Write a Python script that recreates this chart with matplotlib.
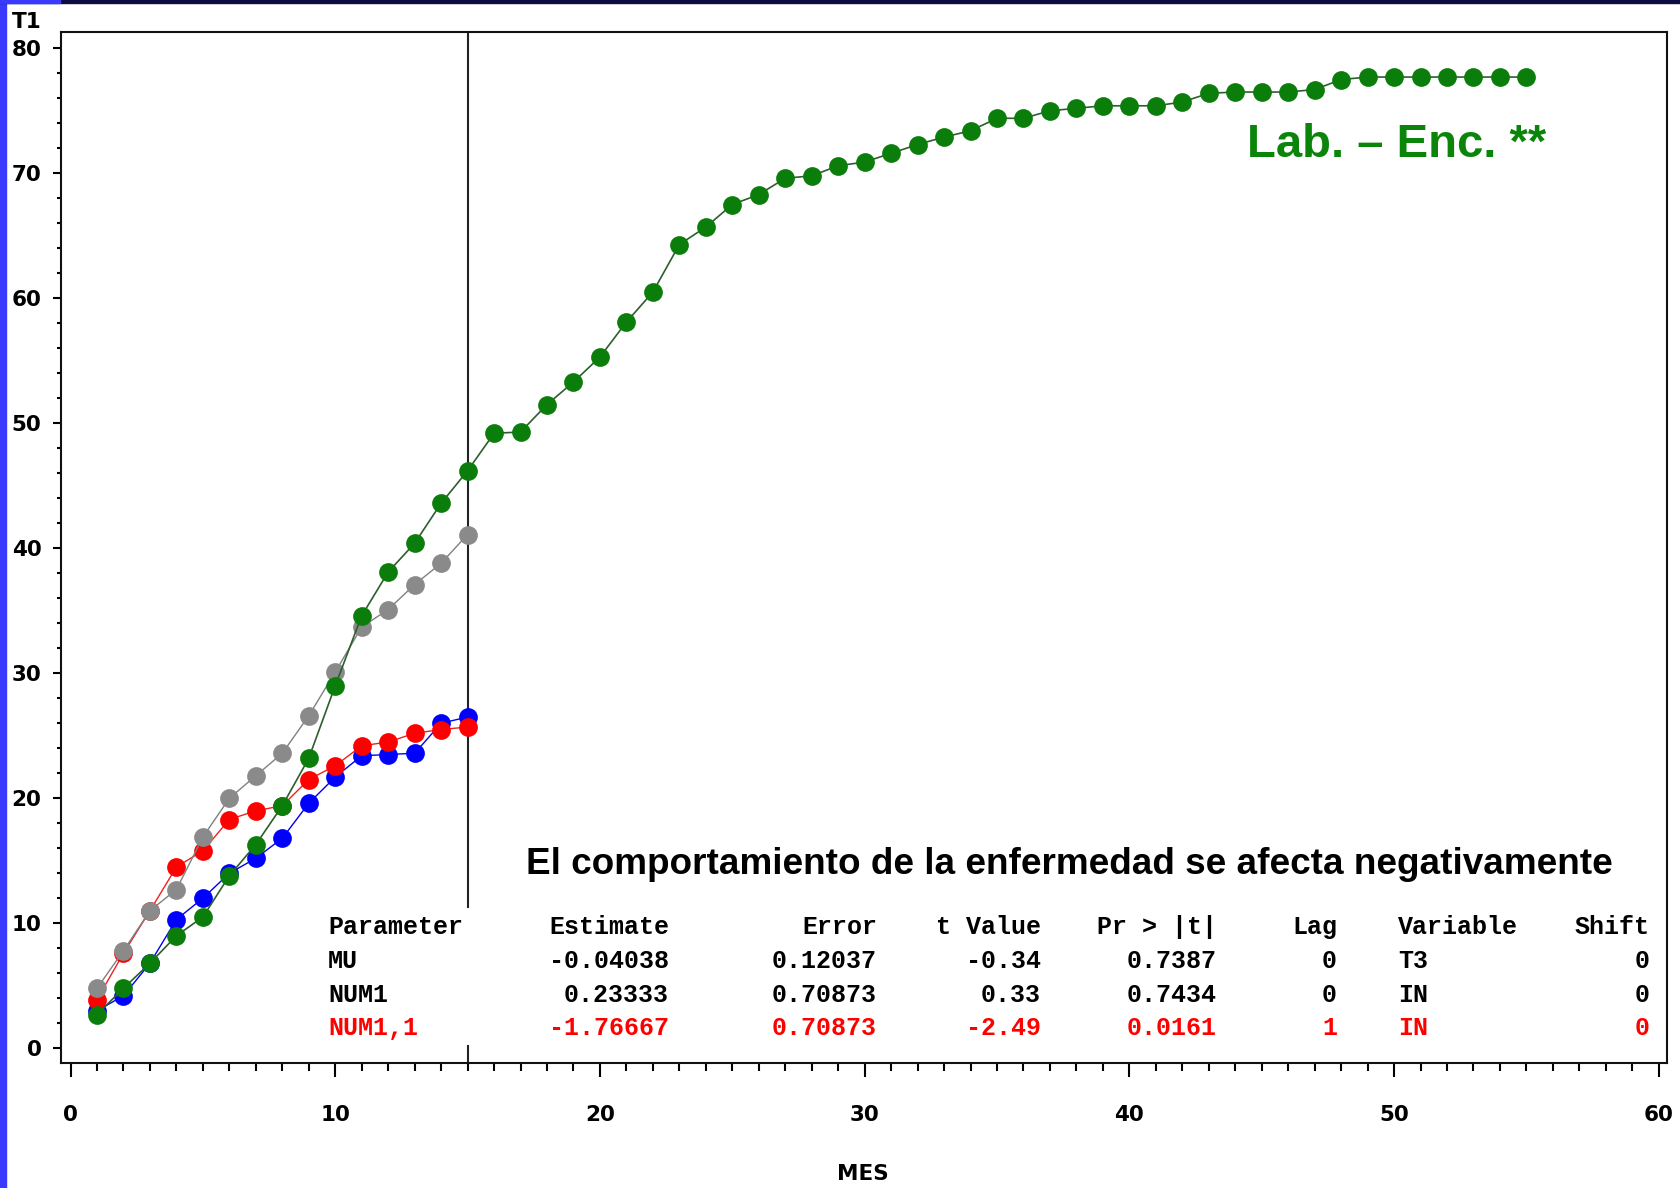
import numpy as np
import matplotlib
matplotlib.use("Agg")
import matplotlib.pyplot as plt
from matplotlib.patches import Rectangle
from matplotlib.ticker import MultipleLocator

# ---------------------------------------------------
# 1. Data
# ---------------------------------------------------

mes_short = list(range(1, 16))
mes_long = list(range(1, 56))

gray_vals = [4.8, 7.8, 11.0, 12.7, 16.9, 20.0, 21.8, 23.6, 26.6, 30.1,
             33.7, 35.1, 37.1, 38.8, 41.1]
red_vals = [3.9, 7.6, 11.0, 14.5, 15.8, 18.3, 19.0, 19.4, 21.5, 22.6,
            24.2, 24.5, 25.2, 25.5, 25.7]
blue_vals = [3.0, 4.2, 6.8, 10.3, 12.0, 14.0, 15.2, 16.8, 19.6, 21.7,
             23.4, 23.5, 23.6, 26.0, 26.5]
green_vals = [2.7, 4.8, 6.8, 9.0, 10.5, 13.8, 16.3, 19.4, 23.2, 29.0,
              34.6, 38.1, 40.4, 43.6, 46.2, 49.2, 49.3, 51.5, 53.3, 55.3,
              58.1, 60.5, 64.3, 65.7, 67.5, 68.3, 69.6, 69.8, 70.6, 70.9,
              71.6, 72.3, 72.9, 73.4, 74.4, 74.4, 75.0, 75.2, 75.4, 75.4,
              75.4, 75.7, 76.4, 76.5, 76.5, 76.5, 76.7, 77.5, 77.7, 77.7,
              77.7, 77.7, 77.7, 77.7, 77.7]

intervention_mes = 15

table_header = ["Parameter", "Estimate", "Error", "t Value", "Pr > |t|",
                "Lag", "Variable", "Shift"]
table_rows = [
    ["MU", "-0.04038", "0.12037", "-0.34", "0.7387", "0", "T3", "0"],
    ["NUM1", "0.23333", "0.70873", "0.33", "0.7434", "0", "IN", "0"],
    ["NUM1,1", "-1.76667", "0.70873", "-2.49", "0.0161", "1", "IN", "0"],
]

# ---------------------------------------------------
# 2. Figure
# ---------------------------------------------------

W, H = 1681, 1188
fig = plt.figure(figsize=(W / 100, H / 100), dpi=100)
fig.patch.set_facecolor("white")

def fx(px):
    return px / W

def fy(py):
    return 1 - py / H

# slide border strips
fig.patches.append(Rectangle((0, 0), fx(6), 1, transform=fig.transFigure,
                             color="#3a3aff", zorder=0))
fig.patches.append(Rectangle((0, fy(3)), 1, fy(0) - fy(3), transform=fig.transFigure,
                             color="#0c0c40", zorder=0))
fig.patches.append(Rectangle((0, fy(3)), fx(60), fy(0) - fy(3), transform=fig.transFigure,
                             color="#3a3aff", zorder=1))

ax = fig.add_axes([fx(61), fy(1063), fx(1666.7) - fx(61), fy(32.3) - fy(1063)])

ms = 13.5
ax.plot(mes_short, blue_vals, color="#0000ee", lw=1.0, marker="o", ms=ms,
        mfc="#0000ff", mec="#0000ff", mew=0, zorder=3)
ax.plot(mes_short, red_vals, color="#ee2020", lw=1.0, marker="o", ms=ms,
        mfc="#ff0000", mec="#ff0000", mew=0, zorder=4)
ax.plot(mes_short, gray_vals, color="#808080", lw=1.0, marker="o", ms=ms,
        mfc="#8a8a8a", mec="#8a8a8a", mew=0, zorder=5)
ax.plot(mes_long, green_vals, color="#2e5e2e", lw=1.2, marker="o", ms=ms,
        mfc="#0b7d0b", mec="#0b7d0b", mew=0, zorder=6)

# intervention line, interrupted behind the table
ax.axvline(intervention_mes, ymin=0.1514, ymax=1, color="#222222", lw=1.5, zorder=2)
ax.axvline(intervention_mes, ymin=0, ymax=0.0165, color="#222222", lw=1.5, zorder=2)

ax.set_xlim(-0.36, 60.3)
ax.set_ylim(-1.18, 81.28)

ax.xaxis.set_major_locator(MultipleLocator(10))
ax.xaxis.set_minor_locator(MultipleLocator(1))
ax.yaxis.set_major_locator(MultipleLocator(10))
ax.yaxis.set_minor_locator(MultipleLocator(2))

for sp in ax.spines.values():
    sp.set_linewidth(1.5)
    sp.set_color("#111111")

tick_font = {"family": "DejaVu Sans", "weight": "bold", "size": 15.5}
ax.tick_params(axis="x", which="major", direction="out", length=10, width=1.5,
               pad=20, labelsize=15.5)
ax.tick_params(axis="x", which="minor", direction="out", length=6, width=1.5)
ax.tick_params(axis="y", which="major", direction="out", length=6, width=1.5,
               pad=8, labelsize=15.5)
ax.tick_params(axis="y", which="minor", direction="out", length=3, width=1.5)
for lab in ax.get_xticklabels() + ax.get_yticklabels():
    lab.set_fontweight("bold")
    lab.set_family("DejaVu Sans")

fig.text(fx(12), fy(22), "T1", ha="left", va="center", **tick_font)
fig.text(fx(863), fy(1174), "MES", ha="center", va="center", **tick_font)

fig.text(fx(1247), fy(145), "Lab. \u2013 Enc. **", ha="left", va="center",
         fontsize=34, fontweight="bold", color="#0a850a", family="Liberation Sans")

fig.text(fx(526), fy(864), "El comportamiento de la enfermedad se afecta negativamente",
         ha="left", va="center", fontsize=26.6, fontweight="bold", color="black",
         family="Liberation Sans")

# parameter table
col_x = [328, 669, 877, 1041, 1217, 1337, 1398, 1650]
col_ha = ["left", "right", "right", "right", "right", "right", "left", "right"]
row_y = [927, 961, 995, 1028]
row_color = ["black", "black", "black", "#ff0000"]

for r, row in enumerate([table_header] + table_rows):
    for c, txt in enumerate(row):
        fig.text(fx(col_x[c]), fy(row_y[r]), txt, ha=col_ha[c], va="center",
                 fontsize=18, fontweight="bold", family="Liberation Mono",
                 color=row_color[r])

fig.savefig("out.png", dpi=100, facecolor="white")
